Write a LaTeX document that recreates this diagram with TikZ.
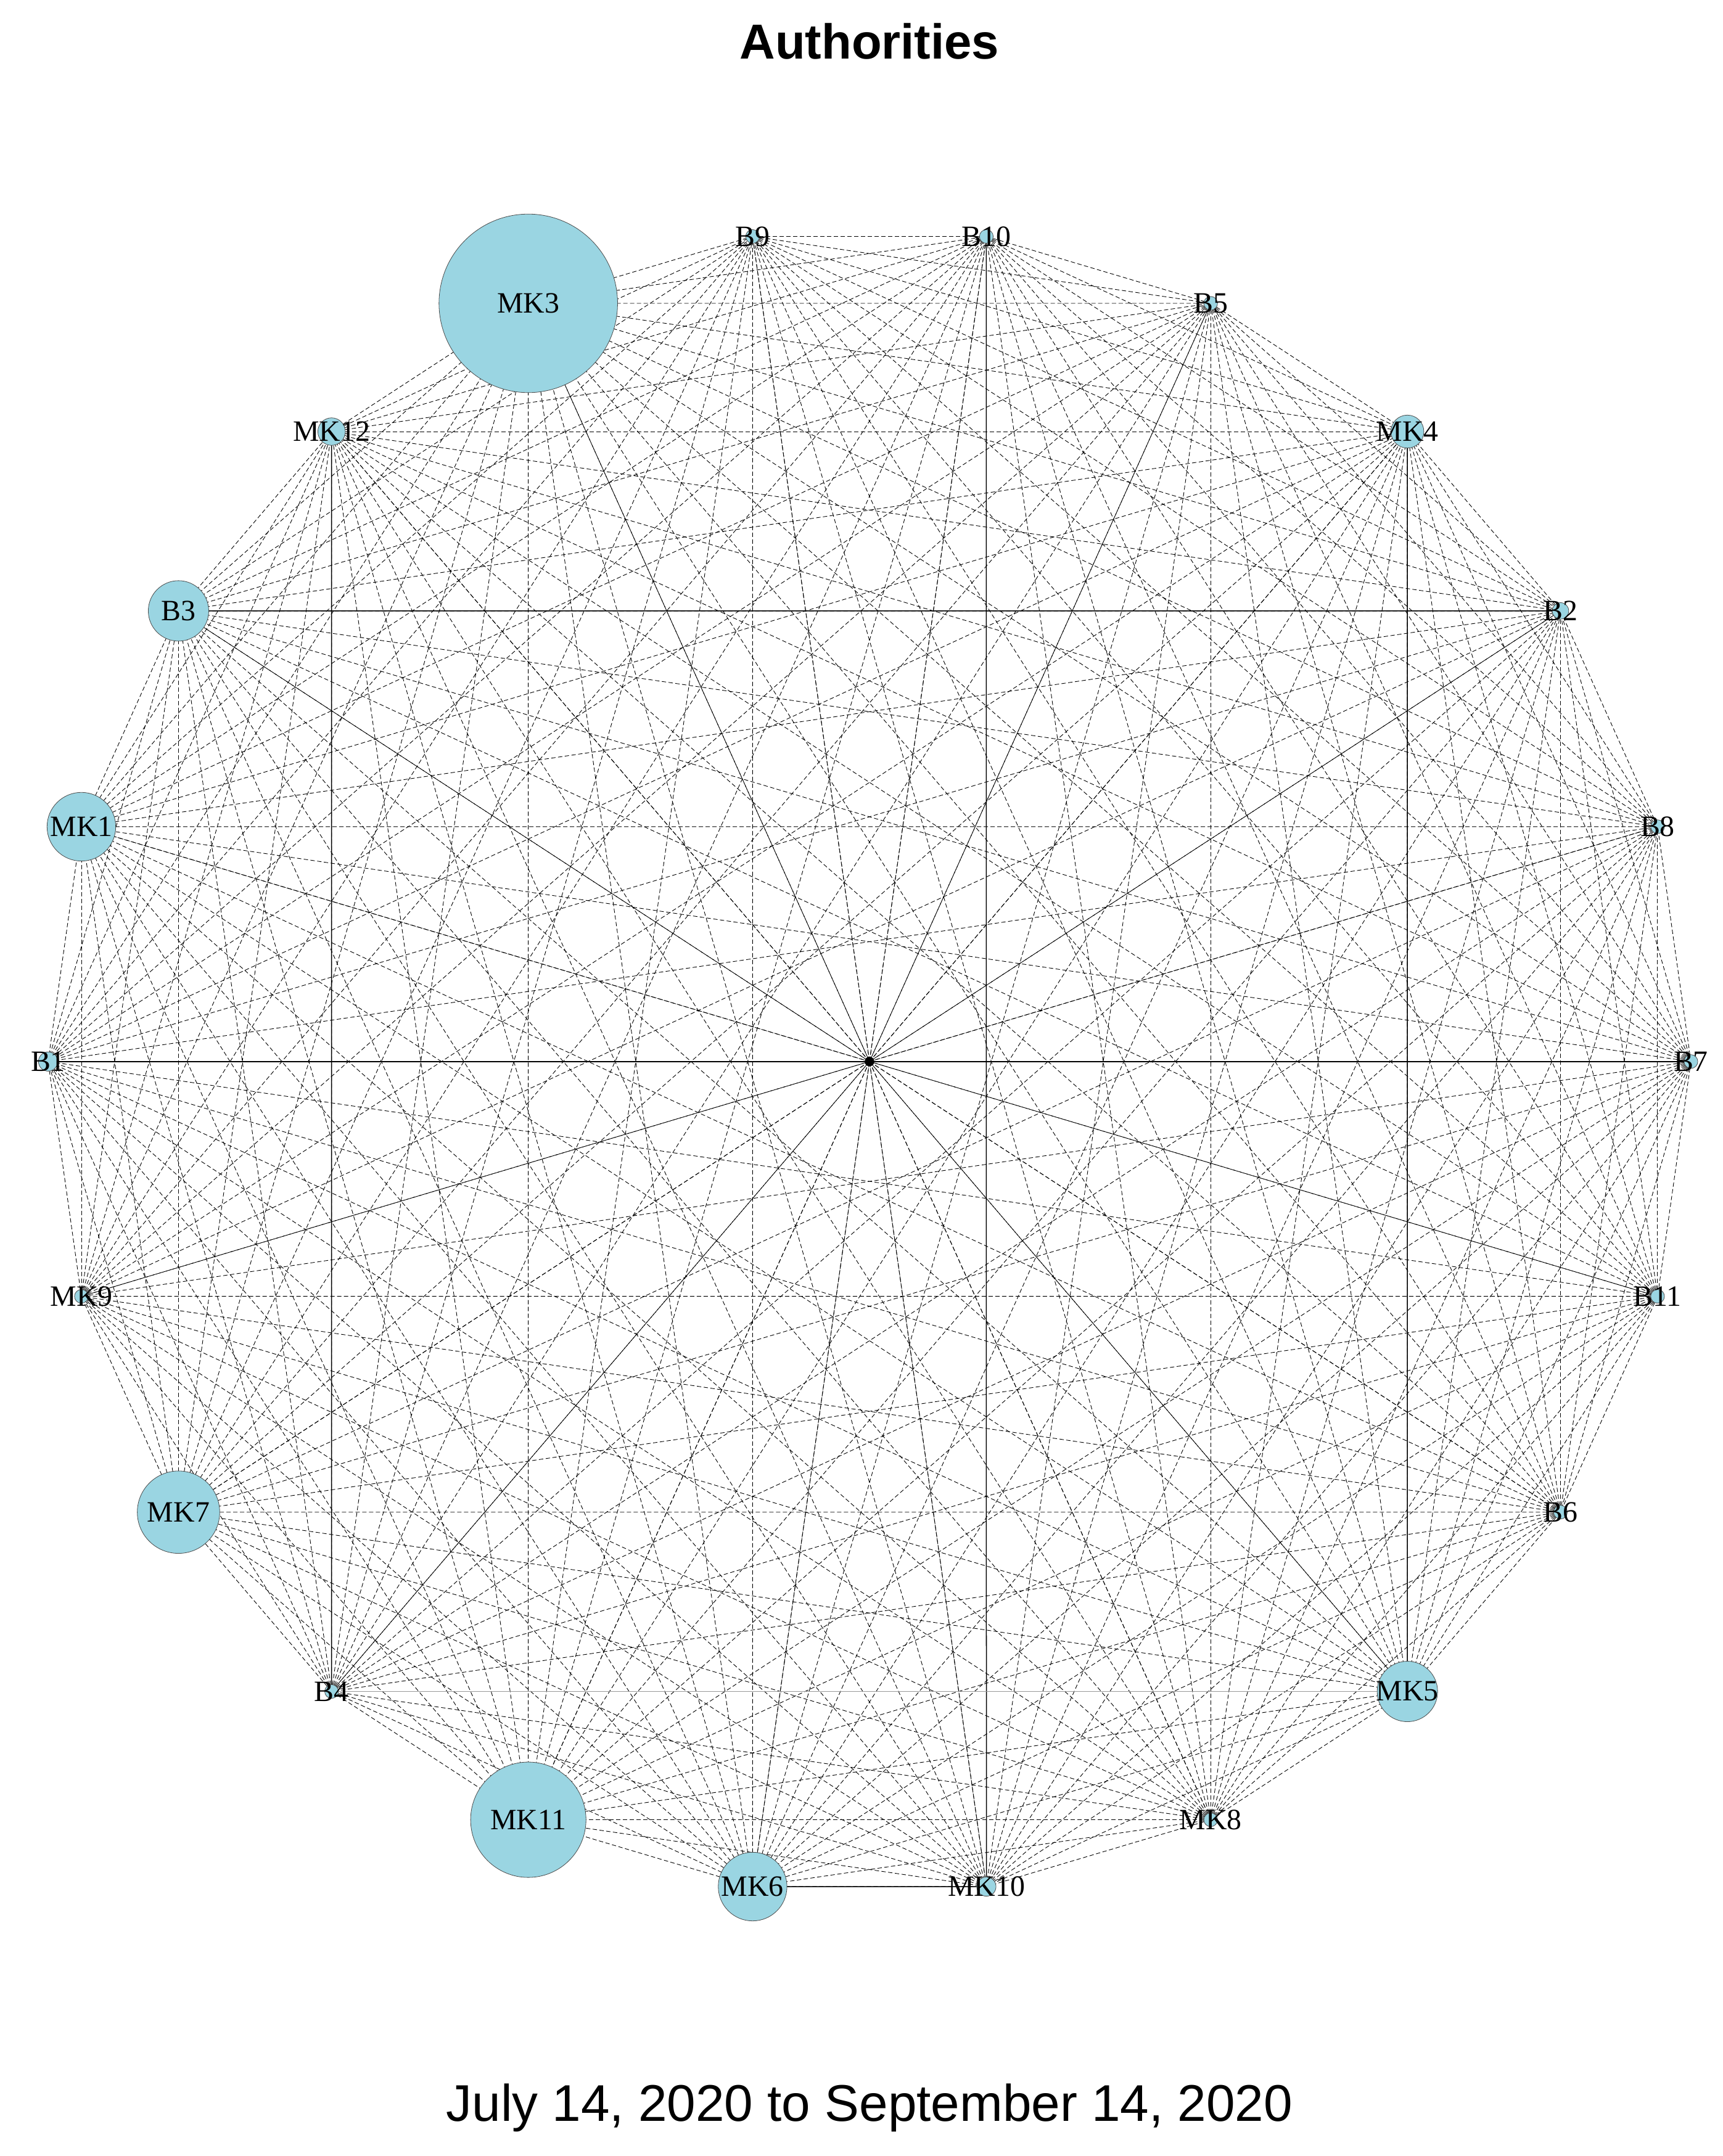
\documentclass[tikz,border=0pt]{standalone}
\usepackage{fontspec}
\usetikzlibrary{calc}
\setmainfont{Liberation Serif}
\newfontfamily\sansf{Liberation Sans}
\definecolor{nodeblue}{HTML}{9AD5E2}
\begin{document}
\begin{tikzpicture}[x=2.2272bp,y=-2.2272bp,
  edge/.style={line width=0.9bp,dash pattern=on 7bp off 4bp,black},
  solidedge/.style={line width=1.5bp,black},
  vert/.style={circle,draw=black!70,line width=0.8bp,fill=nodeblue,inner sep=0pt},
  lab/.style={font=\fontsize{48}{50}\selectfont,inner sep=0pt}]
\useasboundingbox (0,0) rectangle (1254,1570);
\fill[white] (0,0) rectangle (1254,1570);
\def\names{B7,B11,B6,MK5,MK8,MK10,MK6,MK11,B4,MK7,MK9,B1,MK1,B3,MK12,MK3,B9,B10,B5,MK4,B2,B8}
\def\sizes{10,10,10,44,10,14,50,84,10,60,10,14,50,44,20,130,10,10,10,24,12,10}
\coordinate (c) at (633,773);
\foreach \k in {0,...,21}{ \coordinate (n\k) at ($(633,773)+(\k*16.3636:598 and 607)$); }
\foreach \i in {0,...,20}{
  \pgfmathtruncatemacro{\s}{\i+1}
  \foreach \j in {\s,...,21}{ \draw[edge] (n\i) -- (n\j); }
  \draw[edge] (c) -- (n\i);
}
\draw[edge] (c) -- (n21);
\foreach \a/\b in {14/8,17/5,19/3,13/20,11/0,6/5}{ \draw[solidedge] (n\a) -- (n\b); }
\draw[solidedge,black!40] (n8) -- (n3);
\fill (c) circle (3.5);
\foreach \nm [count=\k from 0] in \names {
  \pgfmathsetmacro{\sz}{{\sizes}[\k]}
  \node[vert,minimum size=\sz*2.2272bp] (v\k) at (n\k) {};
  \node[lab] at (n\k) {\nm};
}
\node[font=\sansf\bfseries\fontsize{80}{90}\selectfont] (title) at (633,30) {Authorities};
\node[font=\sansf\fontsize{84}{90}\selectfont] (sub) at (633,1535) {July 14, 2020 to September 14, 2020};
\end{tikzpicture}
\end{document}
